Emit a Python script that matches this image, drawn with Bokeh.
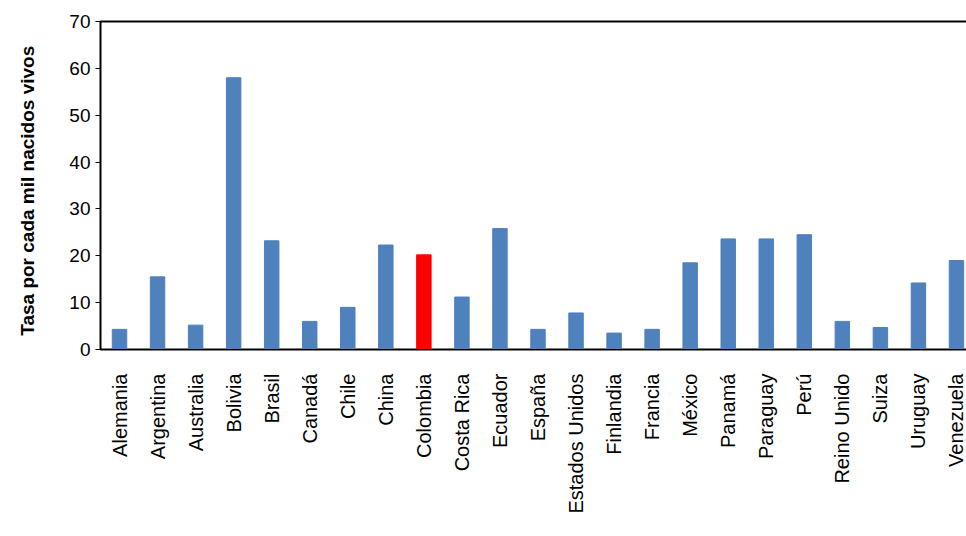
from bokeh.plotting import figure
from bokeh.embed import file_html
from bokeh.resources import INLINE

paises = ['Alemania', 'Argentina', 'Australia', 'Bolivia', 'Brasil', 'Canadá', 'Chile',
          'China', 'Colombia', 'Costa Rica', 'Ecuador', 'España', 'Estados Unidos',
          'Finlandia', 'Francia', 'México', 'Panamá', 'Paraguay', 'Perú', 'Reino Unido',
          'Suiza', 'Uruguay', 'Venezuela']
tasas = [4.3, 15.5, 5.2, 58.0, 23.2, 6.0, 9.0, 22.3, 20.2, 11.2, 25.8, 4.3, 7.8,
         3.5, 4.3, 18.5, 23.6, 23.6, 24.5, 6.0, 4.7, 14.2, 19.0]
colores = ['red' if c == 'Colombia' else '#4F81BD' for c in paises]

p = figure( x_range=paises
          , y_range=(0, 70)
          , width=975
          , height=528
          , toolbar_location=None
          , output_backend="svg"
          , min_border_top=21
          , min_border_left=100
          , min_border_right=0
          , min_border_bottom=179
          )
p.vbar(x=paises, top=tasas, width=0.38, color=colores)

p.yaxis.axis_label = 'Tasa por cada  mil nacidos  vivos'
p.yaxis.axis_label_text_font = 'Liberation Sans'
p.yaxis.axis_label_text_font_style = 'bold'
p.yaxis.axis_label_text_font_size = '19px'
p.yaxis.axis_label_text_color = 'black'
p.yaxis.axis_label_standoff = 28
p.yaxis.major_label_text_font = 'Liberation Sans'
p.yaxis.major_label_text_font_size = '19px'
p.yaxis.major_label_text_color = 'black'
p.yaxis.ticker = list(range(0, 71, 10))
p.yaxis.minor_tick_line_color = None
p.yaxis.major_tick_in = 0
p.yaxis.major_tick_out = 5
p.yaxis.axis_line_color = 'black'

p.xaxis.major_label_orientation = 1.5708
p.xaxis.major_label_text_font = 'Liberation Sans'
p.xaxis.major_label_text_font_size = '20px'
p.xaxis.major_label_text_color = 'black'
p.xaxis.major_tick_line_color = None
p.xaxis.major_label_standoff = 18
p.xaxis.axis_line_color = 'black'

p.grid.grid_line_color = None
p.outline_line_color = 'black'
p.outline_line_width = 2

open("out.html", "w").write(file_html(p, INLINE))
